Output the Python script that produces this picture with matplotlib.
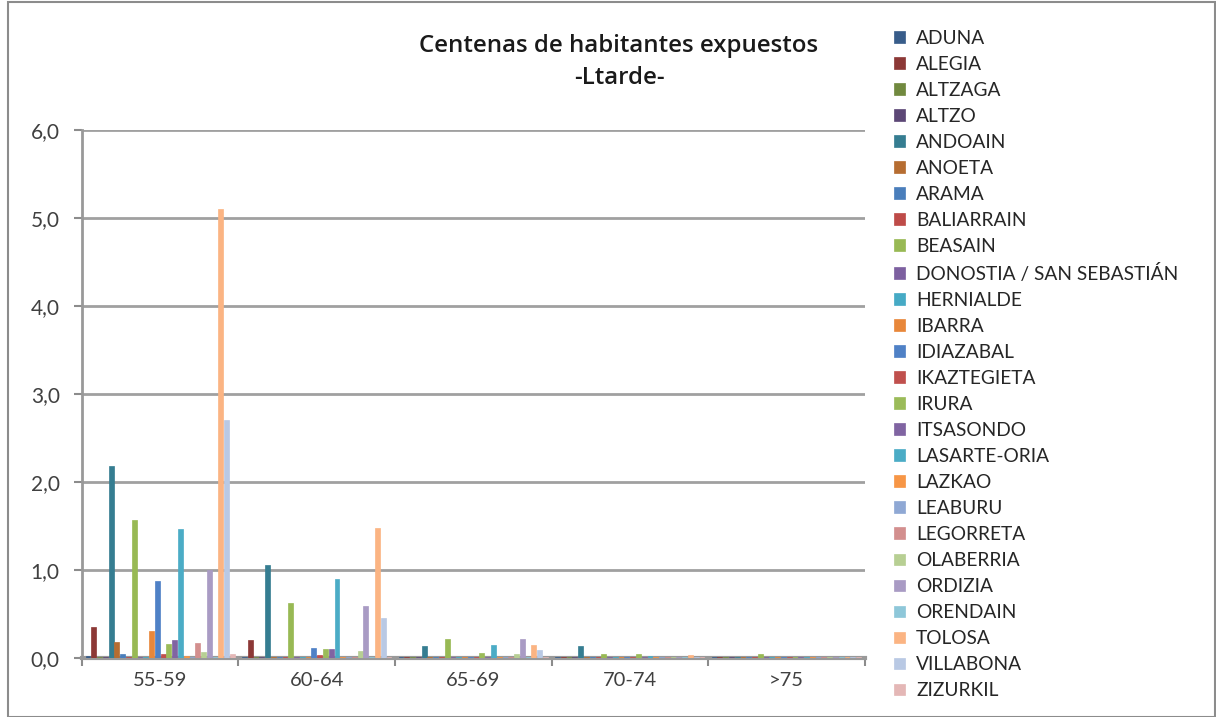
import matplotlib
matplotlib.use("Agg")
import matplotlib.pyplot as plt
from matplotlib.patches import Rectangle
import numpy as np

categories = ["55-59", "60-64", "65-69", "70-74", ">75"]

municipios = ["ADUNA", "ALEGIA", "ALTZAGA", "ALTZO", "ANDOAIN", "ANOETA", "ARAMA",
              "BALIARRAIN", "BEASAIN", "DONOSTIA / SAN SEBASTIÁN", "HERNIALDE", "IBARRA",
              "IDIAZABAL", "IKAZTEGIETA", "IRURA", "ITSASONDO", "LASARTE-ORIA", "LAZKAO",
              "LEABURU", "LEGORRETA", "OLABERRIA", "ORDIZIA", "ORENDAIN", "TOLOSA",
              "VILLABONA", "ZIZURKIL"]

# values per municipio, one per age class (centenas de habitantes)
aduna       = [0.02, 0.01, 0.01, 0.01, 0.01]
alegia      = [0.35, 0.21, 0.01, 0.01, 0.01]
altzaga     = [0.01, 0.01, 0.01, 0.01, 0.01]
altzo       = [0.01, 0.01, 0.01, 0.01, 0.01]
andoain     = [2.18, 1.06, 0.14, 0.14, 0.01]
anoeta      = [0.18, 0.01, 0.01, 0.01, 0.01]
arama       = [0.04, 0.01, 0.01, 0.01, 0.01]
baliarrain  = [0.01, 0.01, 0.01, 0.01, 0.01]
beasain     = [1.57, 0.62, 0.22, 0.04, 0.04]
donostia    = [0.01, 0.01, 0.01, 0.01, 0.01]
hernialde   = [0.01, 0.01, 0.01, 0.01, 0.01]
ibarra      = [0.31, 0.01, 0.01, 0.01, 0.01]
idiazabal   = [0.88, 0.11, 0.01, 0.01, 0.01]
ikaztegieta = [0.05, 0.03, 0.01, 0.01, 0.01]
irura       = [0.16, 0.10, 0.06, 0.04, 0.01]
itsasondo   = [0.21, 0.10, 0.01, 0.01, 0.01]
lasarte     = [1.47, 0.90, 0.15, 0.02, 0.01]
lazkao      = [0.02, 0.01, 0.01, 0.01, 0.01]
leaburu     = [0.01, 0.01, 0.01, 0.01, 0.01]
legorreta   = [0.17, 0.01, 0.01, 0.01, 0.01]
olaberria   = [0.07, 0.08, 0.04, 0.01, 0.01]
ordizia     = [1.00, 0.59, 0.22, 0.01, 0.01]
orendain    = [0.01, 0.01, 0.01, 0.01, 0.01]
tolosa      = [5.10, 1.48, 0.15, 0.03, 0.01]
villabona   = [2.71, 0.45, 0.09, 0.01, 0.01]
zizurkil    = [0.04, 0.01, 0.01, 0.01, 0.01]

series = [aduna, alegia, altzaga, altzo, andoain, anoeta, arama, baliarrain, beasain,
          donostia, hernialde, ibarra, idiazabal, ikaztegieta, irura, itsasondo, lasarte,
          lazkao, leaburu, legorreta, olaberria, ordizia, orendain, tolosa, villabona, zizurkil]

colors = ["#385d8a", "#8c3836", "#71893f", "#5c4776", "#357d91", "#b66d31",
          "#4a7ebb", "#be4b48", "#98b954", "#7d60a0", "#46aac5", "#e8873a",
          "#4f81c6", "#c0504d", "#9bbb59", "#8064a2", "#4bacc6", "#f79646",
          "#8fa8d4", "#d38f8e", "#b7cf93", "#a99bc4", "#8ec7d9", "#fbb483",
          "#b9c9e4", "#e4b7b6"]

fig = plt.figure(figsize=(12.16, 7.17), dpi=100)
plt.rcParams['font.family'] = ['Lato', 'DejaVu Sans']

# chart area border
fig.patches.append(Rectangle((8 / 1216, 0.0), 1 - 9 / 1216, 0.997, transform=fig.transFigure,
                             fill=False, edgecolor="#8c8c8c", linewidth=1.5))

ax = fig.add_axes([0.0674, 0.0823, 0.6436, 0.7364])

n = len(series)
group_w = 0.96
w = group_w / n
x = np.arange(len(categories))
for i, (vals, c) in enumerate(zip(series, colors)):
    offs = -group_w / 2 + w * (i + 0.5)
    ax.bar(x + offs, vals, width=w * 0.85, color=c, edgecolor=c, linewidth=0.5,
           label=municipios[i], zorder=3)

ax.set_xlim(-0.5, 4.5)
ax.set_ylim(0, 6)
ax.set_yticks(np.arange(0, 6.1, 1))
ax.set_yticklabels([f"{v:.1f}".replace(".", ",") for v in np.arange(0, 6.1, 1)])
ax.set_xticks(x)
ax.set_xticklabels(categories)
ax.set_xticks(np.arange(-0.5, 4.6, 1), minor=True)
ax.tick_params(axis="x", which="major", length=0, pad=10, labelsize=14.5, colors="#404040")
ax.tick_params(axis="x", which="minor", length=6, color="#8c8c8c", width=1.5)
ax.tick_params(axis="y", length=6, color="#8c8c8c", width=1.5, pad=10,
               labelsize=15, colors="#404040")
ax.grid(axis="y", color="#a0a0a0", linewidth=2, zorder=0)
for s in ["top", "right"]:
    ax.spines[s].set_visible(False)
ax.spines["left"].set_color("#999999")
ax.spines["left"].set_linewidth(2)
ax.spines["bottom"].set_color("#999999")
ax.spines["bottom"].set_linewidth(3)

fig.text(0.509, 0.936, "Centenas de habitantes expuestos", ha="center", va="center",
         fontsize=17.3, fontweight="semibold", color="#1a1a1a", family="Open Sans")
fig.text(0.509, 0.891, "-Ltarde-", ha="center", va="center",
         fontsize=17.3, fontweight="semibold", color="#1a1a1a", family="Open Sans")

handles, labels = ax.get_legend_handles_labels()
leg = fig.legend(handles, labels, loc="upper left", bbox_to_anchor=(0.729, 0.969),
                 frameon=False, fontsize=13.8, handlelength=0.55, handleheight=0.55,
                 handletextpad=0.6, labelspacing=0.47, borderaxespad=0)
for t in leg.get_texts():
    t.set_color("#262626")

fig.savefig("out.png", dpi=100)
